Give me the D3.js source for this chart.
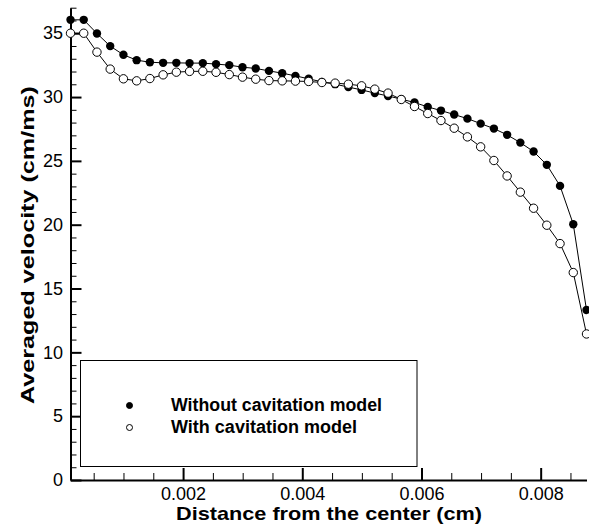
<!DOCTYPE html>
<html>
<head>
<meta charset="utf-8">
<script src="https://cdn.jsdelivr.net/npm/d3@7"></script>
<style>
  body { margin: 0; background: #fff; }
  svg { display: block; font-family: "Liberation Sans", Arial, sans-serif; }
</style>
</head>
<body>
<svg id="chart" width="589" height="529"></svg>
<script>
// Distance from the center (cm)
const distance = [
  0.000111, 0.000333, 0.000555, 0.000777, 0.000999, 0.001221, 0.001443, 0.001665,
  0.001887, 0.002109, 0.002331, 0.002553, 0.002775, 0.002997, 0.003219, 0.003441,
  0.003663, 0.003885, 0.004107, 0.004329, 0.004551, 0.004773, 0.004995, 0.005217,
  0.005439, 0.005661, 0.005883, 0.006105, 0.006327, 0.006549, 0.006771, 0.006993,
  0.007215, 0.007437, 0.007659, 0.007881, 0.008103, 0.008325, 0.008547, 0.008769
];
// Averaged velocity (cm/ms), without cavitation model
const withoutCavitation = [
  36.05, 36.05, 34.98, 33.99, 33.31, 32.89, 32.73, 32.68,
  32.68, 32.66, 32.66, 32.58, 32.50, 32.34, 32.24, 32.05,
  31.87, 31.66, 31.43, 31.19, 31.01, 30.78, 30.56, 30.31,
  30.08, 29.84, 29.57, 29.23, 28.94, 28.63, 28.31, 27.92,
  27.53, 27.04, 26.43, 25.73, 24.69, 23.04, 20.04, 13.32
];
// Averaged velocity (cm/ms), with cavitation model
const withCavitation = [
  35.00, 35.00, 33.52, 32.19, 31.43, 31.27, 31.45, 31.74,
  31.95, 32.01, 32.02, 31.94, 31.76, 31.56, 31.40, 31.29,
  31.27, 31.25, 31.22, 31.14, 31.09, 31.01, 30.88, 30.62,
  30.31, 29.81, 29.26, 28.71, 28.16, 27.56, 26.88, 26.10,
  25.03, 23.82, 22.55, 21.29, 19.96, 18.52, 16.25, 11.44
];
const seriesNames = ["Without cavitation model", "With cavitation model"];
const xMajorTicks = [0.002, 0.004, 0.006, 0.008];
const xMinorTicks = [0.0005, 0.001, 0.0015, 0.0025, 0.003, 0.0035, 0.0045, 0.005, 0.0055, 0.0065, 0.007, 0.0075, 0.0085];
const yMajorTicks = [0, 5, 10, 15, 20, 25, 30, 35];
const yMinorTicks = [1,2,3,4,6,7,8,9,11,12,13,14,16,17,18,19,21,22,23,24,26,27,28,29,31,32,33,34,36,37];

const svg = d3.select("#chart");
const x = d3.scaleLinear().domain([0.000111, 0.008769]).range([70.5, 586.5]);
const y = d3.scaleLinear().domain([0, 37]).range([480, 7.7]);

// Y axis
const yMinorAxis = d3.axisLeft(y).tickValues(yMinorTicks).tickFormat("").tickSizeInner(-6).tickSizeOuter(0);
const gyMinor = svg.append("g").attr("transform", "translate(70.5,0)").call(yMinorAxis);
gyMinor.select(".domain").remove();
gyMinor.selectAll(".tick line").attr("stroke", "#000").attr("stroke-width", 1);

const yAxis = d3.axisLeft(y).tickValues(yMajorTicks).tickFormat(d3.format("d")).tickSizeInner(-11).tickSizeOuter(0).tickPadding(7.5);
const gy = svg.append("g").attr("transform", "translate(70.5,0)").call(yAxis);
gy.select(".domain").attr("stroke", "#000").attr("stroke-width", 2);
gy.selectAll(".tick line").attr("stroke", "#000").attr("stroke-width", 2);
gy.selectAll(".tick text").attr("font-size", 18).attr("fill", "#000")
  .attr("font-family", "'Liberation Sans', Arial, sans-serif");

// X axis
const xMinorAxis = d3.axisBottom(x).tickValues(xMinorTicks).tickFormat("").tickSizeInner(-7).tickSizeOuter(0);
const gxMinor = svg.append("g").attr("transform", "translate(0,480)").call(xMinorAxis);
gxMinor.select(".domain").remove();
gxMinor.selectAll(".tick line").attr("stroke", "#000").attr("stroke-width", 1);

const xAxis = d3.axisBottom(x).tickValues(xMajorTicks).tickFormat(d3.format(".3f")).tickSizeInner(-12).tickSizeOuter(0).tickPadding(7);
const gx = svg.append("g").attr("transform", "translate(0,480)").call(xAxis);
gx.select(".domain").attr("stroke", "#000").attr("stroke-width", 2);
gx.selectAll(".tick text").attr("font-size", 18).attr("fill", "#000")
  .attr("font-family", "'Liberation Sans', Arial, sans-serif");
gx.selectAll(".tick line").attr("stroke", "#000").attr("stroke-width", 2);

// Axis titles
svg.append("text")
  .attr("x", 329).attr("y", 520)
  .attr("text-anchor", "middle")
  .attr("font-size", 19).attr("font-weight", "bold")
  .attr("textLength", 306).attr("lengthAdjust", "spacingAndGlyphs")
  .text("Distance from the center (cm)");
svg.append("text")
  .attr("transform", "translate(34,245) rotate(-90)")
  .attr("text-anchor", "middle")
  .attr("font-size", 19).attr("font-weight", "bold")
  .attr("textLength", 318).attr("lengthAdjust", "spacingAndGlyphs")
  .text("Averaged velocity (cm/ms)");

// Data
const line = d3.line().x(d => x(d[0])).y(d => y(d[1]));
const dataA = distance.map((d, i) => [d, withoutCavitation[i]]);
const dataB = distance.map((d, i) => [d, withCavitation[i]]);

svg.append("path").datum(dataA).attr("d", line).attr("fill", "none").attr("stroke", "#000").attr("stroke-width", 1);
svg.append("path").datum(dataB).attr("d", line).attr("fill", "none").attr("stroke", "#000").attr("stroke-width", 1);

svg.append("g").selectAll("circle").data(dataA).join("circle")
  .attr("cx", d => x(d[0])).attr("cy", d => y(d[1])).attr("r", 4.2)
  .attr("fill", "#000");
svg.append("g").selectAll("circle").data(dataB).join("circle")
  .attr("cx", d => x(d[0])).attr("cy", d => y(d[1])).attr("r", 4.2)
  .attr("fill", "#fff").attr("stroke", "#000").attr("stroke-width", 1);

// Legend
const lg = svg.append("g");
lg.append("rect").attr("x", 80.5).attr("y", 360.5).attr("width", 336.5).attr("height", 106)
  .attr("fill", "#fff").attr("stroke", "#000").attr("stroke-width", 1);
const legendRows = [
  { name: seriesNames[0], fill: "#000", cy: 405.5, ty: 411, len: 211 },
  { name: seriesNames[1], fill: "#fff", cy: 427.5, ty: 433, len: 186 }
];
legendRows.forEach(r => {
  lg.append("circle").attr("cx", 129.5).attr("cy", r.cy).attr("r", 3)
    .attr("fill", r.fill).attr("stroke", "#000").attr("stroke-width", 1);
  lg.append("text").attr("x", 171).attr("y", r.ty)
    .attr("font-size", 17.5).attr("font-weight", "bold").attr("fill", "#000")
    .attr("textLength", r.len).attr("lengthAdjust", "spacingAndGlyphs")
    .text(r.name);
});
</script>
</body>
</html>
